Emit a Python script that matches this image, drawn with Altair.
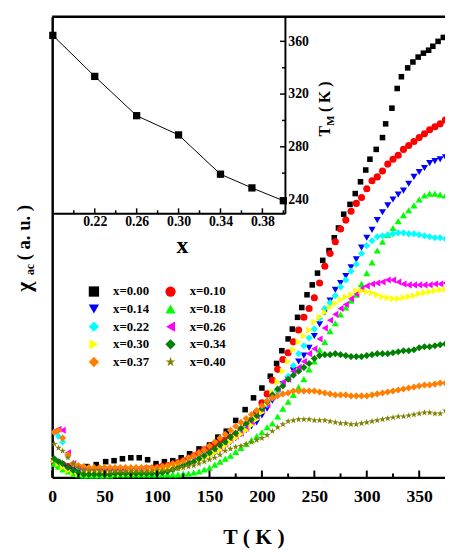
import altair as alt
import pandas as pd

F = "Liberation Serif"

# ---------------- data ----------------
temps = [2, 6, 10, 15, 20, 25, 30, 35, 40, 45,
         50, 55, 60, 65, 70, 75, 80, 85, 90, 95,
         100, 105, 110, 115, 120, 125, 130, 135, 140, 145,
         150, 155, 160, 165, 170, 175, 180, 185, 190, 195,
         200, 205, 210, 215, 220, 225, 230, 235, 240, 245,
         250, 255, 260, 265, 270, 275, 280, 285, 290, 295,
         300, 305, 310, 315, 320, 325, 330, 335, 340, 345,
         350, 355, 360, 365, 370, 375]

T_000 = [5, 15, 24, 33, 42, 51, 59, 67, 75, 83, 91, 99, 107, 115, 123, 131, 140, 150, 158, 166,
         175, 184, 192, 200, 208, 214, 219, 225, 229, 234, 238, 243, 248, 253, 258, 264, 269, 273,
         278, 284, 289, 294, 299, 303, 309, 315, 318, 324, 329, 333, 339, 344, 349, 354, 359, 363,
         368, 373]
chi_000 = [13, 11, 10, 11, 13, 16, 17, 19, 20, 20, 18, 14, 16, 17, 20, 24, 29, 33, 41, 47,
           58, 69, 81, 91, 103, 116, 129, 141, 151, 163, 173, 186, 196, 208, 221, 231, 244, 254,
           268, 278, 289, 301, 313, 324, 334, 346, 360, 376, 396, 408, 417, 423, 428, 432, 435, 439,
           444, 448]

chi_010 = [16, 15, 13, 11, 10, 9, 9, 8, 8, 8,
           8, 8, 8, 8, 8, 8, 8, 8, 9, 9,
           10, 11, 12, 13, 15, 17, 19, 22, 25, 28,
           31, 34, 36, 38, 41, 44, 48, 52, 58, 66,
           76, 85, 99, 110, 120, 127, 138, 150, 163, 172,
           183, 198, 215, 228, 240, 253, 262, 271, 279, 285,
           294, 302, 306, 312, 319, 324, 328, 334, 338, 342,
           346, 350, 354, 357, 360, 364]
chi_014 = [16, 13, 11, 9, 7, 6, 5, 5, 5, 5,
           5, 5, 5, 5, 5, 5, 6, 6, 6, 6,
           7, 8, 9, 10, 11, 12, 14, 16, 18, 20,
           22, 25, 28, 32, 36, 40, 44, 48, 52, 56,
           63, 70, 78, 86, 95, 100, 109, 118, 124, 132,
           144, 156, 168, 180, 191, 198, 205, 214, 222, 234,
           244, 252, 262, 270, 277, 283, 288, 292, 299, 306,
           311, 315, 320, 322, 324, 326]
chi_018 = [14, 11, 8, 6, 4, 3, 2, 2, 2, 2,
           2, 2, 3, 3, 3, 3, 3, 3, 3, 3,
           3, 3, 3, 3, 3, 4, 4, 5, 6, 8,
           10, 13, 16, 19, 22, 26, 30, 34, 38, 42,
           46, 51, 55, 62, 70, 77, 84, 92, 100, 110,
           118, 130, 138, 149, 157, 166, 173, 180, 186, 197,
           208, 219, 231, 240, 247, 254, 261, 267, 272, 277,
           283, 287, 289, 289, 288, 287]
chi_022 = [46, 42, 36, 22, 14, 10, 8, 7, 6, 6,
           6, 6, 6, 6, 6, 6, 6, 6, 7, 7,
           8, 9, 10, 11, 13, 15, 16, 18, 20, 23,
           25, 27, 30, 34, 38, 42, 46, 51, 56, 62,
           68, 74, 81, 88, 96, 103, 114, 126, 134, 142,
           151, 162, 172, 178, 185, 194, 201, 210, 217, 228,
           236, 241, 245, 246, 247, 248, 249, 249, 248, 248,
           247, 246, 245, 244, 244, 243]
chi_026 = [47, 49, 48, 25, 14, 10, 8, 7, 7, 6,
           6, 6, 6, 6, 6, 6, 7, 7, 7, 8,
           9, 9, 10, 11, 12, 14, 16, 18, 20, 22,
           25, 27, 30, 34, 38, 42, 45, 50, 56, 62,
           68, 74, 82, 90, 97, 100, 108, 112, 118, 126,
           131, 141, 152, 160, 166, 172, 176, 182, 187, 192,
           195, 197, 198, 199, 201, 201, 199, 197, 196, 196,
           196, 196, 196, 197, 197, 198]
chi_030 = [18, 14, 10, 7, 5, 4, 4, 4, 4, 4,
           4, 4, 4, 4, 4, 5, 5, 5, 5, 6,
           7, 8, 9, 10, 11, 12, 14, 16, 18, 20,
           22, 25, 28, 32, 36, 40, 44, 48, 53, 59,
           66, 75, 87, 97, 108, 118, 130, 138, 144, 150,
           158, 163, 168, 173, 177, 181, 184, 186, 190, 190,
           189, 188, 186, 184, 183, 182, 182, 183, 184, 185,
           187, 188, 189, 190, 191, 191]
chi_034 = [19, 16, 14, 10, 7, 5, 3, 3, 3, 3,
           3, 3, 4, 4, 4, 4, 4, 4, 4, 4,
           4, 5, 6, 8, 10, 12, 14, 16, 19, 22,
           25, 29, 33, 36, 41, 45, 50, 55, 59, 63,
           70, 77, 84, 90, 93, 100, 104, 108, 112, 116,
           121, 124, 125, 125, 126, 125, 124, 123, 123, 123,
           124, 125, 126, 126, 126, 127, 128, 129, 129, 130,
           132, 133, 133, 134, 135, 136]
chi_037 = [46, 48, 40, 23, 14, 12, 11, 10, 10, 10,
           10, 10, 10, 10, 10, 10, 10, 10, 10, 10,
           10, 11, 12, 14, 15, 17, 20, 22, 25, 28,
           32, 36, 40, 44, 48, 52, 56, 60, 64, 68,
           73, 78, 81, 83, 85, 86, 88, 88, 88, 88,
           88, 87, 86, 85, 84, 84, 84, 83, 83, 83,
           83, 84, 85, 86, 87, 88, 89, 90, 91, 92,
           93, 94, 94, 95, 96, 96]
chi_040 = [34, 30, 27, 20, 14, 10, 8, 7, 7, 7,
           6, 6, 6, 6, 6, 6, 6, 6, 6, 6,
           7, 7, 7, 8, 9, 10, 11, 12, 14, 16,
           18, 20, 23, 27, 29, 31, 32, 34, 36, 38,
           40, 43, 47, 51, 54, 57, 58, 59, 59, 59,
           58, 58, 58, 57, 56, 55, 55, 54, 54, 55,
           56, 57, 58, 59, 60, 61, 62, 62, 63, 64,
           65, 66, 66, 65, 65, 68]

inset_x = [0.18, 0.22, 0.26, 0.30, 0.34, 0.37, 0.40]
inset_tm = [364.5, 333.4, 303.6, 289.0, 259.2, 248.8, 239.1]

series_labels = ["x=0.00", "x=0.10", "x=0.14", "x=0.18", "x=0.22",
                 "x=0.26", "x=0.30", "x=0.34", "x=0.37", "x=0.40"]
series_colors = ["#000000", "#ff0000", "#0000ff", "#00ff00", "#00ffff",
                 "#ff00ff", "#ffff00", "#008000", "#ff8000", "#808000"]
STAR = ("M0,-1L0.2245,-0.309L0.951,-0.309L0.363,0.118L0.588,0.809L0,0.382"
        "L-0.588,0.809L-0.363,0.118L-0.951,-0.309L-0.2245,-0.309Z")
series_shapes = ["square", "circle", "triangle-down", "triangle-up", "diamond",
                 "triangle-left", "triangle-right", "diamond", "diamond", STAR]

# legend fills column by column: order entries so rows read 0.00 | 0.10, 0.14 | 0.18 ...
legend_order = [0, 2, 4, 6, 8, 1, 3, 5, 7, 9]

main_major = [0, 50, 100, 150, 200, 250, 300, 350]
main_minor = [25, 75, 125, 175, 225, 275, 325]
ix_major = [0.22, 0.26, 0.30, 0.34, 0.38]
ix_minor = [0.20, 0.24, 0.28, 0.32, 0.36, 0.40]
iy_major = [240, 280, 320, 360]
iy_minor = [260, 300, 340]

# ---------------- tables ----------------
black = pd.DataFrame({"T": T_000, "chi": chi_000, "s": series_labels[0]})
rows = []
for lab, arr in zip(series_labels[1:], [chi_010, chi_014, chi_018, chi_022, chi_026,
                                         chi_030, chi_034, chi_037, chi_040]):
    rows += [{"T": t, "chi": v, "s": lab} for t, v in zip(temps, arr)]
colored = pd.DataFrame(rows)
inset_df = pd.DataFrame({"xc": inset_x, "tm": inset_tm})

dom = [series_labels[i] for i in legend_order]
col_rng = [series_colors[i] for i in legend_order]
shp_rng = [series_shapes[i] for i in legend_order]

W, H = 400, 469
IW, IH = 237, 200

xs_main = alt.Scale(domain=[0, 374.6], nice=False, zero=False)
ys_main = alt.Scale(domain=[0, 469], nice=False, zero=False)
xs_in = alt.Scale(domain=[0.1794, 0.4015], range=[0, IW], nice=False, zero=False)
ys_in = alt.Scale(domain=[229.6, 378.6], range=[IH, 0], nice=False, zero=False)

x_axis_main = alt.Axis(values=main_major, ticks=False, grid=False, domainWidth=2.5,
                       domainColor="black", labelFont=F, labelFontWeight="bold",
                       labelFontSize=18, labelPadding=11, labelColor="black", labelFlush=False,
                       title="T ( K )", titleFont=F, titleFontWeight="bold", titleFontSize=22,
                       titleColor="black", titleX=205, titleY=67, titleBaseline="alphabetic",
                       titleAlign="center")
y_axis_main = alt.Axis(labels=False, ticks=False, grid=False, domainWidth=2.5,
                       domainColor="black", title=None)
x_axis_in = alt.Axis(orient="bottom", offset=-(H - IH), values=ix_major, format=".2f",
                     ticks=False, grid=False, domainWidth=2, domainColor="black",
                     labelFont=F, labelFontWeight="bold", labelFontSize=14, labelPadding=2,
                     labelColor="black", labelFlush=False,
                     title="x", titleFont=F, titleFontWeight="bold", titleFontSize=24,
                     titleColor="black", titleX=132, titleY=33, titleBaseline="middle",
                     titleAlign="center")
y_axis_in = alt.Axis(orient="right", offset=-(W - IW), values=iy_major, format="d",
                     ticks=False, grid=False, domainWidth=2, domainColor="black",
                     labelFont=F, labelFontWeight="bold", labelFontSize=14, labelPadding=3,
                     labelColor="black", title=None)

legend = alt.Legend(orient="none", legendX=36, legendY=273, columns=2, title=None,
                    symbolSize=110, symbolStrokeWidth=0, labelFont=F, labelFontWeight="bold",
                    labelFontSize=13, labelColor="black", labelOffset=13, columnPadding=15,
                    rowPadding=4, padding=0)

enc = dict(
    x=alt.X("T:Q", scale=xs_main, axis=x_axis_main),
    y=alt.Y("chi:Q", scale=ys_main, axis=y_axis_main),
    color=alt.Color("s:N", scale=alt.Scale(domain=dom, range=col_rng), legend=legend),
    shape=alt.Shape("s:N", scale=alt.Scale(domain=dom, range=shp_rng), legend=legend),
)
pts_black = alt.Chart(black).mark_point(filled=True, opacity=1, size=32).encode(**enc)
pts_col = alt.Chart(colored).mark_point(filled=True, opacity=1, size=52).encode(**enc)

maj = alt.Chart(pd.DataFrame({"T": main_major})).mark_rule(color="black", strokeWidth=2).encode(
    x=alt.X("T:Q", scale=xs_main, axis=x_axis_main), y=alt.value(H), y2=alt.value(H - 7))
mnr = alt.Chart(pd.DataFrame({"T": main_minor})).mark_rule(color="black", strokeWidth=2).encode(
    x=alt.X("T:Q", scale=xs_main, axis=x_axis_main), y=alt.value(H), y2=alt.value(H - 4))
top = alt.Chart(pd.DataFrame({"a": [0]})).mark_rule(color="black", strokeWidth=2.5).encode(
    x=alt.value(0), x2=alt.value(W), y=alt.value(0))


def label(txt, x, y, size):
    return alt.Chart(pd.DataFrame({"t": [txt]})).mark_text(
        angle=270, align="left", baseline="middle", font=F, fontWeight="bold",
        fontSize=size, color="black").encode(text="t:N", x=alt.value(x), y=alt.value(y))


ytitle = [label("χ", -29, 280, 22), label("ac", -23, 263, 12), label("( a. u. )", -29, 248, 19)]
ititle = [label("T", 278, 122, 16), label("M", 284, 111, 11), label("( K )", 278, 97, 16)]

main = alt.layer(pts_black, pts_col, maj, mnr, top, *ytitle, *ititle)

iline = alt.Chart(inset_df).mark_line(color="black", strokeWidth=1).encode(
    x=alt.X("xc:Q", scale=xs_in, axis=x_axis_in), y=alt.Y("tm:Q", scale=ys_in, axis=y_axis_in))
ipts = alt.Chart(inset_df).mark_point(shape="square", filled=True, opacity=1, size=55,
                                      color="black").encode(
    x=alt.X("xc:Q", scale=xs_in, axis=x_axis_in), y=alt.Y("tm:Q", scale=ys_in, axis=y_axis_in))
ixmaj = alt.Chart(pd.DataFrame({"xc": ix_major})).mark_rule(color="black", strokeWidth=1.5).encode(
    x=alt.X("xc:Q", scale=xs_in, axis=x_axis_in), y=alt.value(IH), y2=alt.value(IH - 5))
ixmin = alt.Chart(pd.DataFrame({"xc": ix_minor})).mark_rule(color="black", strokeWidth=1.5).encode(
    x=alt.X("xc:Q", scale=xs_in, axis=x_axis_in), y=alt.value(IH), y2=alt.value(IH - 3))
iymaj = alt.Chart(pd.DataFrame({"tm": iy_major})).mark_rule(color="black", strokeWidth=1.5).encode(
    y=alt.Y("tm:Q", scale=ys_in, axis=y_axis_in), x=alt.value(IW), x2=alt.value(IW - 5))
iymin = alt.Chart(pd.DataFrame({"tm": iy_minor})).mark_rule(color="black", strokeWidth=1.5).encode(
    y=alt.Y("tm:Q", scale=ys_in, axis=y_axis_in), x=alt.value(IW), x2=alt.value(IW - 3))

inset = alt.layer(iline, ipts, ixmaj, ixmin, iymaj, iymin)

chart = alt.layer(main, inset).resolve_scale(
    x="independent", y="independent"
).properties(
    width=W, height=H,
    autosize=alt.AutoSizeParams(type="none"),
    padding={"left": 45, "top": 4, "right": 0, "bottom": 71},
    background="white",
).configure_view(stroke=None)

chart.save("out.html", embed_options={"renderer": "svg", "actions": False})
